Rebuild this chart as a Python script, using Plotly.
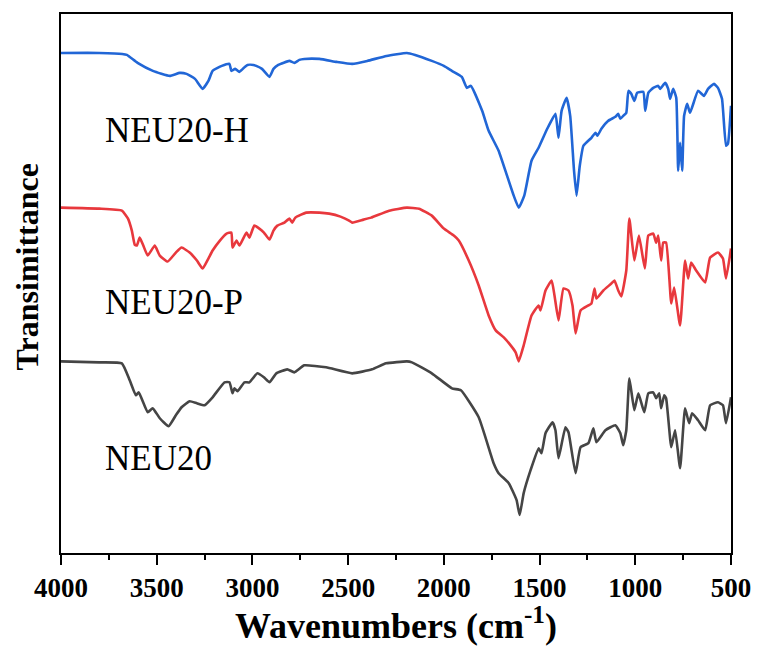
import plotly.graph_objects as go

# ---- Data (wavenumber cm-1, transmittance in arbitrary offset units) ----
h_wn = [4000, 3800, 3680, 3656, 3600, 3520, 3432, 3380, 3344, 3300, 3260, 3230, 3208, 3160, 3120, 3110,
        3090, 3068, 3040, 3026, 2995, 2980, 2950, 2911, 2890, 2865, 2807, 2781, 2755, 2729, 2650, 2560,
        2479, 2400, 2300, 2193, 2150, 2063, 2000, 1958, 1906, 1880, 1859, 1800, 1766, 1714, 1670, 1635,
        1609, 1580, 1542, 1505, 1460, 1417, 1401, 1385, 1359, 1340, 1320, 1307, 1290, 1271, 1229, 1208,
        1198, 1177, 1141, 1104, 1089, 1078, 1063, 1047, 1036, 1021, 1005, 990, 958, 948, 932, 906, 880,
        870, 844, 828, 818, 802, 786, 776, 766, 755, 745, 729, 714, 672, 641, 620, 589, 568, 547, 526,
        516, 500]
h_t = [501, 501, 500, 499, 491, 483, 478, 481, 480, 475, 465, 473, 483, 488, 490, 483,
       485, 482, 487, 489, 489, 488, 485, 477, 485, 489, 493, 491, 494, 495, 495, 492,
       490, 493, 498, 501, 499, 493, 488, 483, 477, 466, 468, 443, 423, 403, 378, 358,
       346, 358, 393, 406, 425, 440, 416, 443, 456, 438, 383, 358, 388, 408, 416, 421,
       418, 425, 433, 437, 440, 435, 438, 441, 463, 460, 453, 461, 462, 443, 461, 466, 468,
       465, 471, 465, 455, 465, 456, 383, 411, 383, 438, 450, 441, 463, 458, 465, 470, 466, 455, 408,
       410, 448]

p_wn = [4000, 3800, 3682, 3650, 3630, 3615, 3604, 3589, 3570, 3547, 3510, 3484, 3443, 3400, 3370, 3328,
        3290, 3260, 3230, 3208, 3170, 3135, 3110, 3104, 3083, 3068, 3031, 3016, 2990, 2964, 2940, 2911,
        2890, 2870, 2833, 2807, 2792, 2776, 2719, 2650, 2599, 2540, 2495, 2479, 2420, 2380, 2286, 2193,
        2130, 2063, 2000, 1948, 1922, 1870, 1818, 1766, 1729, 1687, 1651, 1625, 1609, 1583, 1542, 1505,
        1495, 1469, 1437, 1422, 1401, 1375, 1349, 1328, 1312, 1286, 1245, 1229, 1213, 1203, 1167, 1125,
        1109, 1089, 1073, 1047, 1031, 1005, 981, 950, 932, 906, 891, 880, 865, 854, 839, 812, 797, 766,
        740, 724, 708, 682, 635, 609, 568, 542, 526, 500]
p_t = [346, 345, 343, 335, 323, 309, 308, 316, 308, 298, 308, 298, 292, 301, 306, 301,
       293, 285, 295, 303, 313, 320, 321, 306, 313, 308, 321, 316, 328, 325, 321, 314,
       323, 328, 331, 335, 331, 336, 341, 341, 340, 337, 333, 331, 334, 336, 343, 346,
       345, 338, 325, 318, 313, 293, 268, 238, 223, 216, 208, 201, 192, 208, 238, 248,
       243, 263, 273, 258, 233, 265, 263, 248, 220, 243, 248, 250, 265, 255, 263, 270,
       273, 263, 257, 283, 335, 293, 318, 285, 318, 320, 311, 318, 293, 311, 311, 250, 266, 228,
       293, 275, 291, 283, 271, 296, 301, 295, 275, 305]

n_wn = [4000, 3800, 3682, 3641, 3609, 3594, 3547, 3521, 3484, 3438, 3400, 3370, 3328, 3290, 3250, 3208,
        3146, 3120, 3104, 3094, 3078, 3042, 3016, 2974, 2940, 2911, 2875, 2818, 2781, 2729, 2615, 2479,
        2375, 2302, 2193, 2167, 2063, 1958, 1911, 1818, 1740, 1714, 1661, 1620, 1604, 1583, 1547, 1505,
        1490, 1469, 1432, 1417, 1401, 1365, 1349, 1312, 1286, 1245, 1219, 1203, 1156, 1104, 1078, 1063,
        1047, 1031, 1005, 984, 953, 932, 906, 891, 875, 865, 849, 839, 812, 792, 766, 740, 719, 703,
        672, 635, 609, 568, 542, 526, 500]
n_t = [192, 191, 190, 173, 158, 161, 141, 145, 135, 127, 138, 146, 152, 150, 148, 156,
       171, 171, 160, 165, 162, 171, 171, 180, 176, 171, 180, 184, 181, 188, 186, 180,
       184, 190, 192, 191, 180, 165, 163, 136, 90, 80, 70, 53, 38, 60, 83, 105,
       100, 120, 131, 123, 95, 126, 121, 80, 106, 110, 125, 111, 123, 128, 120, 108,
       123, 175, 143, 160, 141, 160, 161, 155, 160, 145, 158, 155, 106, 123, 85, 145, 130, 140,
       133, 123, 148, 151, 148, 130, 156]

series_names = ["NEU20-H", "NEU20-P", "NEU20"]
series_colors = ["#2166d6", "#e8383d", "#454545"]
label_y = [423, 251, 95]
x_ticks = [4000, 3500, 3000, 2500, 2000, 1500, 1000, 500]

FONT = "Liberation Serif, Times New Roman, serif"

fig = go.Figure()
for wn, t, name, col in zip([h_wn, p_wn, n_wn], [h_t, p_t, n_t], series_names, series_colors):
    fig.add_trace(go.Scatter(x=wn, y=t, mode="lines", name=name,
                             line=dict(color=col, width=2.6, shape="spline", smoothing=0.4),
                             showlegend=False))

for name, ly in zip(series_names, label_y):
    fig.add_annotation(x=3781, y=ly, xref="x", yref="y", text=name, showarrow=False,
                       xanchor="left", yanchor="middle",
                       font=dict(family=FONT, size=35, color="black"))

fig.add_annotation(x=-0.0506, y=0.53, xref="paper", yref="paper", text="<b>Transimittance</b>",
                   showarrow=False, textangle=-90, xanchor="center", yanchor="middle",
                   font=dict(family=FONT, size=32, color="black"))
fig.add_annotation(x=0.5, y=-0.131, xref="paper", yref="paper",
                   text="<b>Wavenumbers (cm<sup>-1</sup>)</b>",
                   showarrow=False, xanchor="center", yanchor="middle",
                   font=dict(family=FONT, size=36, color="black"))

fig.update_xaxes(range=[4000, 500], tickvals=x_ticks, ticktext=[str(v) for v in x_ticks],
                 ticks="outside", ticklen=10, tickwidth=2, tickcolor="black",
                 minor=dict(ticks="outside", ticklen=5, tickwidth=2, tickcolor="black",
                            tick0=0, dtick=250),
                 showline=True, linewidth=2, linecolor="black", mirror=True,
                 showgrid=False, zeroline=False,
                 tickfont=dict(family=FONT, size=27, color="black", weight="bold"))
fig.update_yaxes(range=[0, 540], showticklabels=False, ticks="",
                 showline=True, linewidth=2, linecolor="black", mirror=True,
                 showgrid=False, zeroline=False)

fig.update_layout(width=763, height=651,
                  margin=dict(l=61, r=30, t=13, b=98),
                  plot_bgcolor="white", paper_bgcolor="white")

fig.write_html("out.html")
